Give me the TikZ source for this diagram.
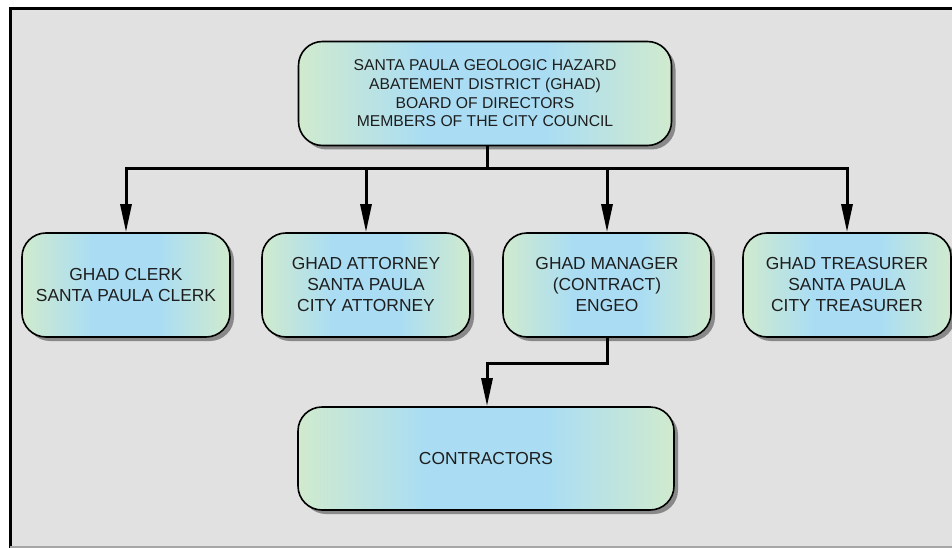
\documentclass[tikz,border=0pt]{standalone}
\usepackage{fontspec}
\setmainfont{Liberation Sans}
\usetikzlibrary{arrows.meta,shadows}
\definecolor{bgc}{RGB}{225,225,225}
\definecolor{boxgreen}{RGB}{208,234,206}
\definecolor{boxblue}{RGB}{170,221,243}
\definecolor{txt}{RGB}{30,30,30}
\pgfdeclarehorizontalshading{boxshade}{100bp}{%
  color(0bp)=(boxgreen); color(25bp)=(boxgreen); color(42bp)=(boxblue);
  color(58bp)=(boxblue); color(75bp)=(boxgreen); color(100bp)=(boxgreen)}
\tikzset{
  orgbox/.style={draw=black, line width=1.6pt, rounded corners=24pt,
    shading=boxshade,
    drop shadow={shadow xshift=4pt, shadow yshift=-4pt, fill=black!55, opacity=0.8},
    align=center, text=txt, inner sep=0pt},
  rowbox/.style={orgbox, minimum width=208pt, minimum height=104pt,
    font=\fontsize{17.4}{21}\selectfont},
  conn/.style={line width=3pt, draw=black},
  arr/.style={conn, -{Triangle[length=28pt,width=11pt]}, shorten >=0pt}
}
\begin{document}
\begin{tikzpicture}[x=1pt,y=1pt]
\useasboundingbox (0,0) rectangle (952,-548);
\fill[white] (0,0) rectangle (952,-548);
\fill[bgc] (10,-8) rectangle (952,-546);
\draw[line width=3pt] (10,-548) -- (10,-8.5) -- (952,-8.5);
\draw[gray!70, line width=1.5pt] (10,-547) -- (952,-547);

\node[orgbox, minimum width=373pt, minimum height=104pt,
  font=\fontsize{15.7}{18.7}\selectfont] (top) at (485,-93.5)
  {SANTA PAULA GEOLOGIC HAZARD\\ABATEMENT DISTRICT (GHAD)\\BOARD OF DIRECTORS\\MEMBERS OF THE CITY COUNCIL};

\node[rowbox] (clerk) at (126,-285) {GHAD CLERK\\SANTA PAULA CLERK};
\node[rowbox] (atty) at (366,-285) {GHAD ATTORNEY\\SANTA PAULA\\CITY ATTORNEY};
\node[rowbox] (mgr) at (607,-285) {GHAD MANAGER\\(CONTRACT)\\ENGEO};
\node[rowbox] (treas) at (847,-285) {GHAD TREASURER\\SANTA PAULA\\CITY TREASURER};

\node[orgbox, minimum width=376pt, minimum height=103pt,
  font=\fontsize{17.4}{21}\selectfont] (contr) at (486,-458.5) {CONTRACTORS};

\coordinate (busL) at (126,-169);
\coordinate (busR) at (847,-169);
\coordinate (jn) at (487,-363);

\draw[conn] (top.south -| jn) -- (busL -| jn);
\draw[conn, line cap=rect] (busL) -- (busR);
\draw[arr] (busL) -- (clerk.north);
\draw[arr] (busL -| atty.north) -- (atty.north);
\draw[arr] (busL -| mgr.north) -- (mgr.north);
\draw[arr] (busR) -- (treas.north);
\draw[arr] (mgr.south) |- (jn) -- (jn |- contr.north);
\end{tikzpicture}
\end{document}
